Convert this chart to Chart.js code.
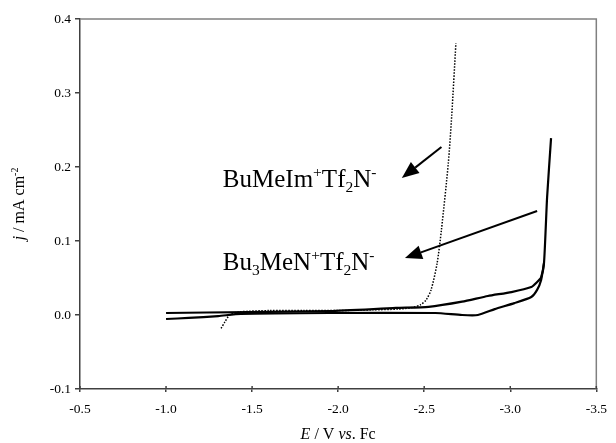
<!DOCTYPE html>
<html>
<head>
<meta charset="utf-8">
<script src="https://cdn.jsdelivr.net/npm/chart.js@4/dist/chart.umd.min.js"></script>
<style>
  html, body { margin: 0; padding: 0; background: #fff; }
  canvas { display: block; }
</style>
</head>
<body>
<canvas id="cv" width="616" height="443"></canvas>
<script>
// BuMeIm+Tf2N- (dotted trace)
const imE = [-1.32, -1.34, -1.37, -1.42, -1.6, -1.8, -2.0, -2.2, -2.35, -2.43, -2.48, -2.51, -2.54, -2.575, -2.6, -2.64, -2.66, -2.684];
const imJ = [-0.018, -0.01, 0.0, 0.004, 0.006, 0.006, 0.006, 0.007, 0.008, 0.01, 0.014, 0.02, 0.034, 0.07, 0.115, 0.205, 0.27, 0.367];

// Bu3MeN+Tf2N- (solid trace, upper branch)
const amUpE = [-1.0, -1.475, -1.95, -2.336, -2.525, -2.72, -2.87, -3.007, -3.122, -3.156, -3.179, -3.196, -3.214, -3.237];
const amUpJ = [0.0027, 0.004, 0.0054, 0.0095, 0.011, 0.018, 0.0257, 0.031, 0.0378, 0.0446, 0.051, 0.07, 0.159, 0.239];

// Bu3MeN+Tf2N- (solid trace, lower branch)
const amLoE = [-1.0, -1.131, -1.303, -1.435, -1.95, -2.565, -2.72, -2.812, -2.91, -3.024, -3.122, -3.156, -3.179, -3.196];
const amLoJ = [-0.0054, -0.004, -0.0014, 0.0014, 0.0027, 0.0027, 0.0, 0.0, 0.008, 0.016, 0.0243, 0.034, 0.047, 0.07];

const xTicks = [-0.5, -1.0, -1.5, -2.0, -2.5, -3.0, -3.5];
const yTicks = [-0.1, 0.0, 0.1, 0.2, 0.3, 0.4];

// label text pieces: [text, mode]
const imLabel = [["BuMeIm", ""], ["+", "sup"], ["Tf", ""], ["2", "sub"], ["N", ""], ["-", "sup"]];
const amLabel = [["Bu", ""], ["3", "sub"], ["MeN", ""], ["+", "sup"], ["Tf", ""], ["2", "sub"], ["N", ""], ["-", "sup"]];
const xTitle = [["E", "it"], [" / V ", ""], ["vs", "it"], [". Fc", ""]];
const yTitle = [["j", "it"], [" / mA cm", ""], ["-2", "sup"]];

// label anchors and arrows, in data units (E, j)
const labelPos = [[-1.33, 0.173], [-1.33, 0.061]];
const arrows = [[-2.6, 0.227, -2.37, 0.185], [-3.156, 0.1405, -2.388, 0.077]];

const FONT = '"Liberation Serif", "Times New Roman", serif';

const pts = (xs, ys) => xs.map((x, i) => ({ x: x, y: ys[i] }));

function richText(ctx, parts, x, y, size) {
    let cx = x;
    parts.forEach(([t, mode]) => {
        let s = size, dy = 0, it = "";
        if (mode === "sup") { s = size * 0.62; dy = -size * 0.38; }
        if (mode === "sub") { s = size * 0.62; dy = size * 0.2; }
        if (mode === "it") it = "italic ";
        ctx.font = it + s + "px " + FONT;
        ctx.fillText(t, cx, y + dy);
        cx += ctx.measureText(t).width;
    });
    return cx - x;
}

function richWidth(ctx, parts, size) {
    let w = 0;
    parts.forEach(([t, mode]) => {
        let s = (mode === "sup" || mode === "sub") ? size * 0.62 : size;
        ctx.font = (mode === "it" ? "italic " : "") + s + "px " + FONT;
        w += ctx.measureText(t).width;
    });
    return w;
}

const extras = {
    id: "extras",
    afterDraw(chart) {
        const ctx = chart.ctx;
        const a = chart.chartArea;
        const xs = chart.scales.x, ys = chart.scales.y;
        ctx.save();

        // top and right frame
        ctx.strokeStyle = "#808080";
        ctx.lineWidth = 1.5;
        ctx.beginPath();
        ctx.moveTo(a.left, a.top);
        ctx.lineTo(a.right, a.top);
        ctx.lineTo(a.right, a.bottom);
        ctx.stroke();

        // x ticks also poke into the plot a little
        ctx.strokeStyle = "#404040";
        xTicks.forEach(v => {
            const px = xs.getPixelForValue(v);
            ctx.beginPath();
            ctx.moveTo(px, a.bottom);
            ctx.lineTo(px, a.bottom - 3);
            ctx.stroke();
        });

        ctx.fillStyle = "#000";
        ctx.textBaseline = "alphabetic";

        // curve labels
        richText(ctx, imLabel, xs.getPixelForValue(labelPos[0][0]), ys.getPixelForValue(labelPos[0][1]), 25);
        richText(ctx, amLabel, xs.getPixelForValue(labelPos[1][0]), ys.getPixelForValue(labelPos[1][1]), 25);

        // arrows
        ctx.strokeStyle = "#000";
        ctx.lineWidth = 2;
        arrows.forEach(([e0, j0, e1, j1]) => {
            const x0 = xs.getPixelForValue(e0), y0 = ys.getPixelForValue(j0);
            const x1 = xs.getPixelForValue(e1), y1 = ys.getPixelForValue(j1);
            const ang = Math.atan2(y1 - y0, x1 - x0);
            const len = 17, hw = 7;
            const bx = x1 - len * Math.cos(ang), by = y1 - len * Math.sin(ang);
            ctx.beginPath();
            ctx.moveTo(x0, y0);
            ctx.lineTo(bx, by);
            ctx.stroke();
            ctx.beginPath();
            ctx.moveTo(x1, y1);
            ctx.lineTo(bx + hw * Math.sin(ang), by - hw * Math.cos(ang));
            ctx.lineTo(bx - hw * Math.sin(ang), by + hw * Math.cos(ang));
            ctx.closePath();
            ctx.fill();
        });

        // axis titles
        const xw = richWidth(ctx, xTitle, 16);
        richText(ctx, xTitle, (a.left + a.right) / 2 - xw / 2, 439, 16);

        const yw = richWidth(ctx, yTitle, 16);
        ctx.translate(24, (a.top + a.bottom) / 2);
        ctx.rotate(-Math.PI / 2);
        richText(ctx, yTitle, -yw / 2, 0, 16);

        ctx.restore();
    }
};

new Chart(document.getElementById("cv"), {
    type: "line",
    data: {
        datasets: [
            {
                label: "BuMeIm+Tf2N-",
                data: pts(imE, imJ),
                borderColor: "#000",
                borderWidth: 1.5,
                borderDash: [1.5, 1.5],
                pointRadius: 0,
                tension: 0.25,
                fill: false
            },
            {
                label: "Bu3MeN+Tf2N- upper",
                data: pts(amUpE, amUpJ),
                borderColor: "#000",
                borderWidth: 2.2,
                pointRadius: 0,
                tension: 0.2,
                fill: false
            },
            {
                label: "Bu3MeN+Tf2N- lower",
                data: pts(amLoE, amLoJ),
                borderColor: "#000",
                borderWidth: 2.2,
                pointRadius: 0,
                tension: 0.2,
                fill: false
            }
        ]
    },
    options: {
        responsive: false,
        animation: false,
        devicePixelRatio: 1,
        layout: { padding: { top: 19, right: 13, left: 0, bottom: 0 } },
        plugins: {
            legend: { display: false },
            tooltip: { enabled: false }
        },
        scales: {
            x: {
                type: "linear",
                reverse: true,
                min: -3.5,
                max: -0.5,
                afterFit: (s) => { s.height = 54; },
                afterBuildTicks: (s) => { s.ticks = xTicks.map(v => ({ value: v })); },
                border: { color: "#404040", width: 1.5 },
                grid: { drawOnChartArea: false, drawTicks: true, tickLength: 3, color: "#404040", lineWidth: 1.5 },
                ticks: {
                    padding: 9,
                    color: "#000",
                    font: { family: FONT, size: 13.5 },
                    maxRotation: 0,
                    callback: (v) => Number(v).toFixed(1)
                }
            },
            y: {
                type: "linear",
                min: -0.1,
                max: 0.4,
                afterFit: (s) => { s.width = 80; },
                afterBuildTicks: (s) => { s.ticks = yTicks.map(v => ({ value: v })); },
                border: { color: "#404040", width: 1.5 },
                grid: { drawOnChartArea: false, drawTicks: true, tickLength: 5, color: "#404040", lineWidth: 1.5 },
                ticks: {
                    padding: 4,
                    color: "#000",
                    font: { family: FONT, size: 13.5 },
                    callback: (v) => Number(v).toFixed(1)
                }
            }
        }
    },
    plugins: [extras]
});
</script>
</body>
</html>
